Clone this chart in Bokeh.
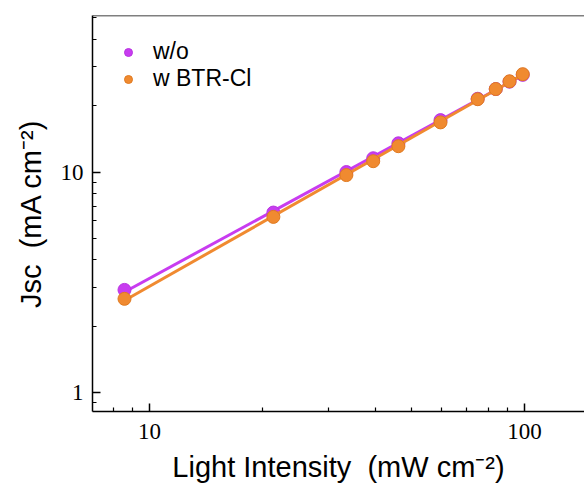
import numpy as np
from bokeh.plotting import figure
from bokeh.models import Legend, LegendItem, Title, Span, FixedTicker, PrintfTickFormatter
from bokeh.embed import file_html
from bokeh.resources import INLINE

intensity = [8.58, 21.4, 33.5, 39.5, 46.1, 59.7, 75.0, 83.8, 91.2, 98.9]
jsc_wo = [2.92, 6.55, 10.0, 11.55, 13.5, 17.2, 21.5, 23.8, 25.7, 27.6]
jsc_btr = [2.66, 6.26, 9.69, 11.2, 13.1, 16.8, 21.4, 23.8, 25.8, 27.8]
series_names = ["w/o", "w BTR-Cl"]
x_major = [10, 100]
y_major = [1, 10]

PURPLE = "#C83CF0"
ORANGE = "#F08A30"

x_lo, x_hi = 7.05, 144.5
y_lo, y_hi = 0.82, 51.3

p = figure(width=584, height=490, x_axis_type="log", y_axis_type="log",
           x_range=(x_lo, x_hi), y_range=(y_lo, y_hi),
           output_backend="svg", toolbar_location=None,
           min_border_left=92, min_border_right=0, min_border_top=15,
           min_border_bottom=78)
p.outline_line_color = None
p.grid.visible = False
p.background_fill_color = "white"

x_minor = [v for d in (1, 10) for v in [d * k for k in range(2, 10)] if x_lo < v < x_hi]
y_minor = [v for d in (0.1, 1, 10) for v in [d * k for k in range(2, 10)] if y_lo < v < y_hi]
p.xaxis.ticker = FixedTicker(ticks=x_major, minor_ticks=x_minor)
p.yaxis.ticker = FixedTicker(ticks=y_major, minor_ticks=y_minor)
p.xaxis.formatter = PrintfTickFormatter(format="%d")
p.yaxis.formatter = PrintfTickFormatter(format="%d")

for ax in (p.xaxis[0], p.yaxis[0]):
    ax.axis_line_width = 1.5
    ax.axis_line_color = "black"
    ax.major_tick_in = 8
    ax.major_tick_out = 0
    ax.minor_tick_in = 4
    ax.minor_tick_out = 0
    ax.major_tick_line_width = 1.5
    ax.minor_tick_line_width = 1.2
    ax.major_label_text_font = "Liberation Serif"
    ax.major_label_text_font_size = "23px"
    ax.major_label_text_color = "black"
p.xaxis.major_label_standoff = 12
p.yaxis.major_label_standoff = 9

p.add_layout(Span(location=y_hi, dimension="width", line_color="black", line_width=1.5))

def fit_line(xs, ys):
    lx, ly = np.log10(xs), np.log10(ys)
    m, b = np.polyfit(lx, ly, 1)
    xe = np.array([min(xs), max(xs)])
    return xe, 10 ** (m * np.log10(xe) + b)

fx, fy = fit_line(intensity, jsc_wo)
p.line(fx, fy, line_color=PURPLE, line_width=3)
s1 = p.scatter(intensity, jsc_wo, size=13, fill_color=PURPLE, line_color="#B834E0", line_width=1)
fx, fy = fit_line(intensity, jsc_btr)
p.line(fx, fy, line_color=ORANGE, line_width=3)
s2 = p.scatter(intensity, jsc_btr, size=13, fill_color=ORANGE, line_color="#E07A20", line_width=1)

legend = Legend(items=[LegendItem(label=series_names[0], renderers=[s1]),
                       LegendItem(label=series_names[1], renderers=[s2])],
                location="top_left", margin=23, padding=11,
                glyph_width=26, glyph_height=20, label_height=20, spacing=0,
                label_standoff=12, border_line_color=None, background_fill_alpha=0,
                label_text_font="Liberation Sans", label_text_font_size="23px",
                label_text_color="black")
p.add_layout(legend)

p.add_layout(Title(text="Jsc \u00a0(mA cm\u207b\u00b2)", align="center", offset=29, standoff=21,
                   text_font="Liberation Sans", text_font_size="29px",
                   text_font_style="normal", text_color="black"), "left")
p.add_layout(Title(text="Light Intensity \u00a0(mW cm\u207b\u00b2)", align="center", standoff=15,
                   text_font="Liberation Sans", text_font_size="29px",
                   text_font_style="normal", text_color="black"), "below")

open("out.html", "w").write(file_html(p, INLINE))
